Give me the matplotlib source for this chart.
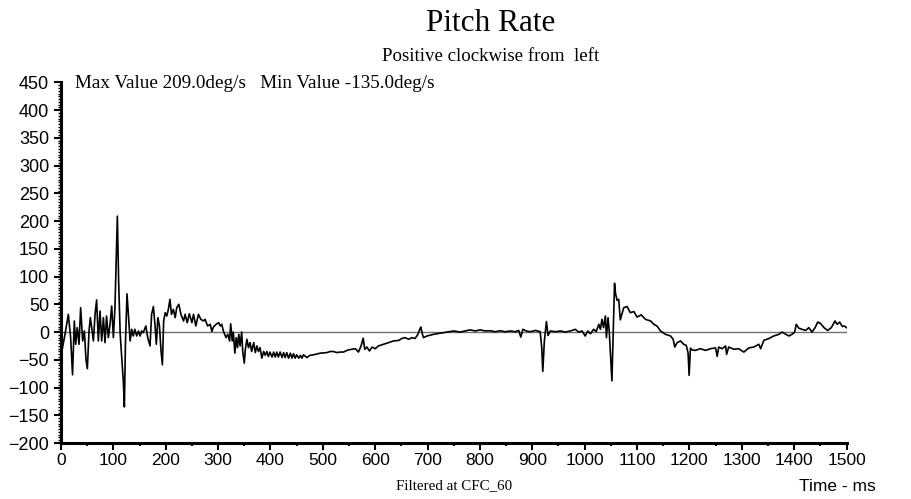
import numpy as np
import matplotlib.pyplot as plt
from matplotlib.ticker import MultipleLocator

# Pitch rate trace (time in ms, rate in deg/s)
time_ms = [
    0, 2.5, 7.6, 14, 18.4, 22, 25.4, 28, 31, 34.4, 37.5, 41.4, 44.6, 47.7, 50.3, 53.5, 56, 58.6, 61.8,
    65, 68, 71.3, 74.5, 77.7, 81, 84, 87, 90.4, 93.6, 96.8, 100, 103, 105, 107.6, 110, 113, 116, 119,
    121, 123, 126, 128.6, 132, 135, 138, 141, 144.6, 148, 151, 154, 157, 162, 165.6, 170, 173, 176.4,
    179.6, 182, 185, 188, 191, 193.6, 196, 199, 202, 205, 208, 211, 214.6, 218, 221, 225, 229,
    234, 237, 241, 245, 250, 253, 257.4, 262.4, 267, 272, 275, 280, 285, 288, 291, 296, 301, 304, 307,
    310, 315, 318.5, 322, 324, 327, 329, 332, 334.5, 337, 339.5, 342, 345, 347, 350, 352, 355, 358, 361,
    364, 368, 371, 374, 377, 380, 383.5, 387, 390, 393, 396, 399, 403, 406, 409, 412, 415, 418.5, 422,
    425, 428, 431, 434.5, 438, 441, 444, 447, 450, 454, 457, 460, 463, 469.5, 475,
    482, 495, 507.6, 514, 520, 527, 533, 539.5, 546, 552, 562, 568, 573, 577, 580, 584, 589, 594, 600,
    606, 616, 625.5, 635, 644.6, 651, 657, 664, 670, 676, 681, 685, 687, 690, 692, 699, 711.5, 724, 737,
    750, 762, 772, 781.5, 791, 800.6, 810, 819.8, 829, 839, 848, 858, 867.5, 874, 878, 882, 888.6, 896,
    906, 915, 918, 920, 923, 927, 930, 934.5, 944, 953.5, 963, 972.6, 982, 988.6, 995, 1001, 1006, 1011,
    1017, 1022, 1027, 1030, 1033, 1036, 1039.5, 1041.5, 1044.6, 1047, 1050, 1052, 1055, 1057, 1059,
    1062, 1065,
    1068, 1074.6, 1081, 1087, 1094, 1100, 1108, 1116, 1126, 1132, 1138, 1145, 1154, 1164, 1169, 1172,
    1176.5, 1183, 1189, 1194, 1197.5, 1199.4, 1202, 1205, 1211.5, 1221, 1231, 1240, 1250, 1253, 1256,
    1262.5, 1269, 1271, 1275, 1285, 1294, 1304, 1313.5, 1323, 1332.6, 1336, 1342, 1352, 1361, 1371,
    1377, 1384, 1390, 1396, 1401, 1404, 1409, 1415, 1422, 1428, 1434, 1440, 1445, 1450, 1457, 1464,
    1471, 1478, 1482, 1487, 1492, 1496, 1500,
]
pitch_rate = [
    -20, -30, -4, 32, -10, -77, 20, -22, 8, -22, 44, -16, 2, -50, -66, 2, 26, 8, -16,
    32, 58, -16, 38, -16, 26, -19, 29, -10, 14, 47, -10, 44, 117, 209, 93, -4, -47, -89,
    -135, -22, 69, 32, -16, 5, -7, 5, -7, 2, -7, 2, -1, 11, -10, -25, 32, 46,
    11, -22, 26, 11, -34, -59, 20, 35, 29, 41, 59, 32, 41, 26, 44, 50, 32,
    20, 32, 17, 33, 17, 32, 11, 32, 23, 20, 23, 11, 14, 1, 9, 14, 17, 11, 14,
    2, -10, -4, -16, 15, -16, 0, -38, -10, -28, -4, -25, 0, -35, -56, -31, -13, -28, -19,
    -35, -19, -37, -25, -35, -28, -47, -35, -42, -35, -44, -36, -45, -36, -45, -36, -45, -36, -46,
    -37, -46, -37, -47, -38, -47, -39, -47, -41, -47, -42, -47, -41, -46, -42,
    -41, -38, -37, -35, -35, -37, -36, -36, -33, -31.5, -30, -36, -25, -11, -31, -27, -34, -27, -30,
    -25, -22, -19, -16, -15, -11.5, -10, -13, -10, -11.5, -5, 5, 9, -3, -10, -7, -4, -2, 0,
    2, 0, 2, 4, 2, 4, 2, 2.4, 0.6, 2.4, 0.6, 2, 0.6, 3, -9, 5, 2, 0.6,
    3, 0.6, -28, -71, -16, 19, -6, 2, 0.6, 2, 0, 2, 5, 0, 2, -7, 2, -3,
    5, 1, 14, 5, 23, 8, 29, -10, 26, 0, -53, -88, 20, 88, 69,
    57, 59,
    22, 44, 46, 35, 37, 27, 31, 23, 20, 14, 11, 2, -4, -7, -13, -27,
    -19, -16, -22, -24, -38, -78, -29, -32, -33, -30, -33, -30, -28.5, -43.7, -27,
    -30, -25, -40, -27, -31, -30, -36, -28.5, -27, -22, -30, -15, -11.5, -7, -4,
    0, -4, -7, -4, 0, 14, 7, 5, 3, 8, 0, 8, 18, 16, 8, 3,
    8, 20, 14, 18, 10, 11, 8,
]

x_ticks = np.arange(0, 1501, 100)
y_ticks = np.arange(-200, 451, 50)

serif = ['Liberation Serif', 'DejaVu Serif']
sans = ['Liberation Sans', 'DejaVu Sans']

fig = plt.figure(figsize=(9.12, 4.99), dpi=100)
ax = fig.add_axes([0.0669, 0.1122, 0.8613, 0.7225])

ax.axhline(0, color='#707070', lw=1.0, zorder=1)
ax.plot(time_ms, pitch_rate, color='black', lw=1.2, zorder=2)

ax.set_xlim(0, 1500)
ax.set_ylim(-200, 450)
ax.set_xticks(x_ticks)
ax.set_yticks(y_ticks)
ax.xaxis.set_minor_locator(MultipleLocator(50))
ax.yaxis.set_minor_locator(MultipleLocator(5))

for s in ['top', 'right']:
    ax.spines[s].set_visible(False)
for s in ['left', 'bottom']:
    ax.spines[s].set_linewidth(2.2)

ax.tick_params(axis='both', which='major', direction='out', length=5, width=1.5)
ax.tick_params(axis='y', which='minor', direction='out', length=2.5, width=1.0)
ax.tick_params(axis='x', which='minor', direction='out', length=2.5, width=1.5)
ax.tick_params(axis='x', which='major', pad=2)
for lab in ax.get_xticklabels():
    lab.set_family(sans)
    lab.set_fontsize(12.5)
for lab in ax.get_yticklabels():
    lab.set_family(sans)
    lab.set_fontsize(13)

fig.text(0.538, 0.953, 'Pitch Rate', ha='center', va='center', fontsize=22.5, family=serif)
fig.text(0.538, 0.886, 'Positive clockwise from  left', ha='center', va='center', fontsize=13.6, family=serif)
fig.text(0.082, 0.832, 'Max Value 209.0deg/s   Min Value -135.0deg/s', ha='left', va='center',
         fontsize=13.8, family=serif)
fig.text(0.498, 0.026, 'Filtered at CFC_60', ha='center', va='center', fontsize=10.8, family=serif)
fig.text(0.96, 0.026, 'Time - ms', ha='right', va='center', fontsize=12.5, family=sans)

fig.savefig('out.png', dpi=100)
